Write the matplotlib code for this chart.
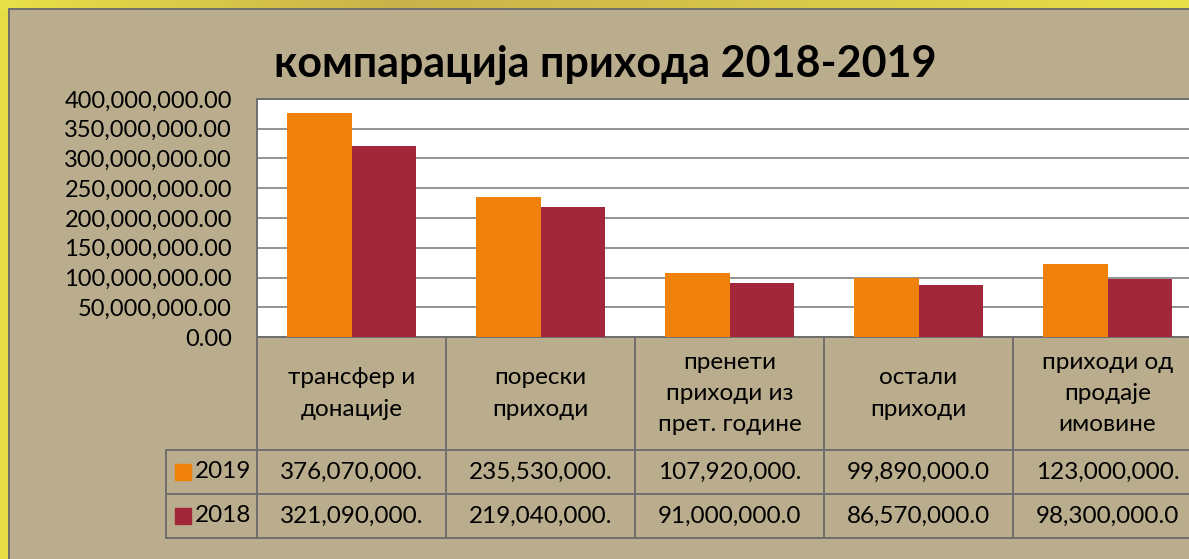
import numpy as np
import matplotlib.pyplot as plt
from matplotlib.patches import Rectangle
from matplotlib.ticker import FuncFormatter

plt.rcParams['font.family'] = ['Lato', 'DejaVu Sans']

# data
categories = ["трансфер и\nдонације", "порески\nприходи",
              "пренети\nприходи из\nпрет. године", "остали\nприходи",
              "приходи од\nпродаје\nимовине"]
years = ["2019", "2018"]
values_2019 = [376070000, 235530000, 107920000, 99890000, 123000000]
values_2018 = [321090000, 219040000, 91000000, 86570000, 98300000]
colors = ["#F0820C", "#A3273A"]

W, H = 1189, 559
tan = "#BAAD8D"
line_col = "#6E6E6E"

fig = plt.figure(figsize=(W / 100, H / 100), dpi=100)
fig.patch.set_facecolor("#E6DC45")

# background: yellow slide border + tan chart area
bg = fig.add_axes([0, 0, 1, 1])
bg.set_xlim(0, W)
bg.set_ylim(H, 0)
bg.axis("off")
grad = np.linspace(0, 1, 256)[None, :]
bg.imshow(grad, extent=[0, W, 12, 0], cmap=plt.matplotlib.colors.LinearSegmentedColormap.from_list(
    "y", ["#E8E048", "#C9B24A", "#D8C84A", "#E8E048"]), aspect="auto")
bg.add_patch(Rectangle((9, 9), W, H, facecolor=tan, edgecolor=line_col, lw=1.4))

# plot area
top_px, bot_px, left_px, cat_w = 99, 337, 257, 189
ax = fig.add_axes([left_px / W, (H - bot_px) / H, 5 * cat_w / W, (bot_px - top_px) / H])
ax.set_facecolor("white")
x = np.arange(len(categories))
bw = 0.34
ax.bar(x - bw / 2, values_2019, bw, color=colors[0], zorder=3)
ax.bar(x + bw / 2, values_2018, bw, color=colors[1], zorder=3)
ax.set_xlim(-0.5, len(categories) - 0.5)
ax.set_ylim(0, 400000000)
ax.set_yticks(np.arange(0, 400000001, 50000000))
ax.yaxis.set_major_formatter(FuncFormatter(lambda v, p: f"{v:,.2f}"))
ax.tick_params(axis="y", length=0, pad=18, labelsize=17)
ax.set_xticks([])
ax.grid(axis="y", color="#8A8A8A", lw=1.3, zorder=0)
for s in ax.spines.values():
    s.set_color(line_col)
    s.set_linewidth(1.4)
ax.spines["right"].set_visible(False)

fig.text(605 / W, 1 - 65 / H, "компарација прихода 2018-2019",
         ha="center", va="center", fontsize=31, fontweight="bold")

# data table under the axis
tr = ax.get_xaxis_transform()
def yf(p):
    return (bot_px - p) / (bot_px - top_px)
y_head, y_r1, y_r2 = yf(450), yf(494), yf(538)
x_leg = -0.5 - (left_px - 166) / cat_w
x_end = len(categories) - 0.5
kw = dict(transform=tr, clip_on=False, color=line_col, lw=1.4)
for i in range(len(categories) + 1):
    ax.plot([i - 0.5, i - 0.5], [0, y_r2], **kw)
ax.plot([x_leg, x_leg], [y_head, y_r2], **kw)
for yy in (y_head, y_r1, y_r2):
    ax.plot([x_leg, x_end], [yy, yy], **kw)

for i, cat in enumerate(categories):
    ax.text(i, yf(393.5), cat, transform=tr, ha="center", va="center",
            fontsize=17.5, linespacing=1.6)
    for vals, yy in ((values_2019, yf(472)), (values_2018, yf(516))):
        ax.text(i, yy, f"{vals[i]:,.2f}"[:12], transform=tr, ha="center",
                va="center", fontsize=17.5)

for yr, c, yy in zip(years, colors, (yf(472), yf(516))):
    ax.plot([-0.89], [yy], marker="s", ms=11, color=c, transform=tr, clip_on=False)
    ax.text(-0.83, yy, yr, transform=tr, ha="left", va="center", fontsize=17.5)

fig.savefig("out.png", dpi=100, facecolor=fig.get_facecolor())
